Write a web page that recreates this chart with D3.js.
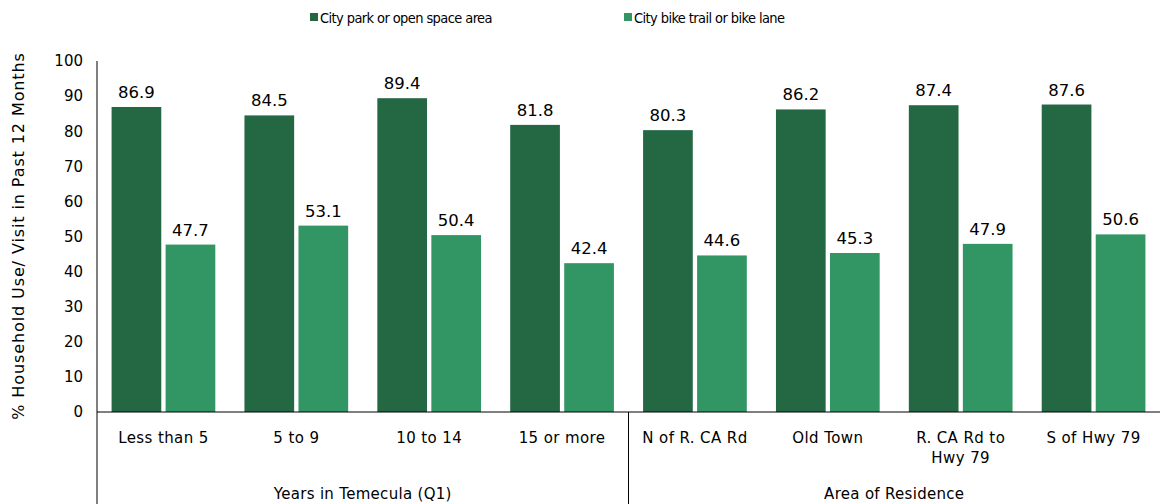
<!DOCTYPE html>
<html>
<head>
<meta charset="utf-8">
<script src="https://cdn.jsdelivr.net/npm/d3@7"></script>
<style>
  body { margin: 0; background: #fff; }
  text { font-family: "DejaVu Sans", sans-serif; fill: #000; }
</style>
</head>
<body>
<div id="chart"></div>
<script>
// Chart data
const categories = ['Less than 5', '5 to 9', '10 to 14', '15 or more',
                    'N of R. CA Rd', 'Old Town', 'R. CA Rd to|Hwy 79', 'S of Hwy 79'];
const groups = [
    { name: 'Years in Temecula (Q1)', count: 4 },
    { name: 'Area of Residence', count: 4 }
];
const seriesNames = ['City park or open space area', 'City bike trail or bike lane'];
const parkValues = [86.9, 84.5, 89.4, 81.8, 80.3, 86.2, 87.4, 87.6];
const bikeValues = [47.7, 53.1, 50.4, 42.4, 44.6, 45.3, 47.9, 50.6];
const yTicks = [0, 10, 20, 30, 40, 50, 60, 70, 80, 90, 100];
const colors = ['#236843', '#329564'];

const width = 1167, height = 504;
const margin = { left: 97, right: 7, top: 61, bottom: 92 };

const svg = d3.select('#chart').append('svg')
    .attr('width', width)
    .attr('height', height);

const x = d3.scaleBand()
    .domain(categories)
    .range([margin.left, width - margin.right])
    .paddingInner(0)
    .paddingOuter(0);

const y = d3.scaleLinear()
    .domain([0, 100])
    .range([height - margin.bottom, margin.top]);

// Inner scale for the two bars in a category
const xs = d3.scaleBand()
    .domain([0, 1])
    .range([0, x.bandwidth()])
    .paddingInner(0.08)
    .paddingOuter(0.27);

const data = categories.map((c, i) => ({ cat: c, vals: [parkValues[i], bikeValues[i]] }));

// Bars
const cg = svg.append('g').selectAll('g')
    .data(data)
    .enter().append('g')
    .attr('transform', d => `translate(${x(d.cat)},0)`);

cg.selectAll('rect')
    .data(d => d.vals)
    .enter().append('rect')
    .attr('x', (v, i) => xs(i))
    .attr('width', xs.bandwidth())
    .attr('y', v => y(v))
    .attr('height', v => y(0) - y(v))
    .attr('fill', (v, i) => colors[i]);

cg.selectAll('text.val')
    .data(d => d.vals)
    .enter().append('text')
    .attr('class', 'val')
    .attr('x', (v, i) => xs(i) + xs.bandwidth() / 2)
    .attr('y', v => y(v) - 9)
    .attr('text-anchor', 'middle')
    .attr('font-size', '16.5px')
    .text(v => v.toFixed(1));

// Y axis
const yAxis = svg.append('g')
    .attr('transform', `translate(${margin.left},0)`)
    .call(d3.axisLeft(y).tickValues(yTicks).tickSize(0).tickPadding(14));
yAxis.select('.domain').remove();
yAxis.selectAll('text').attr('font-size', '15px');

svg.append('line')
    .attr('x1', margin.left).attr('x2', margin.left)
    .attr('y1', y(100)).attr('y2', height)
    .attr('stroke', '#000').attr('stroke-width', 1);

// X baseline
svg.append('line')
    .attr('x1', margin.left).attr('x2', width - margin.right)
    .attr('y1', y(0)).attr('y2', y(0))
    .attr('stroke', '#000').attr('stroke-width', 1);

// Category labels
const catLabels = svg.append('g').selectAll('text')
    .data(categories)
    .enter().append('text')
    .attr('x', d => x(d) + x.bandwidth() / 2)
    .attr('y', y(0) + 31)
    .attr('text-anchor', 'middle')
    .attr('font-size', '15px')
    .attr('letter-spacing', '0.4px');
catLabels.each(function(d) {
    const parts = d.split('|');
    const t = d3.select(this);
    parts.forEach((p, i) => {
        t.append('tspan')
            .attr('x', x(d) + x.bandwidth() / 2)
            .attr('dy', i === 0 ? 0 : 20)
            .text(p);
    });
});

// Group labels and separators
let start = 0;
groups.forEach((g, gi) => {
    const x0 = x(categories[start]);
    const x1 = x(categories[start + g.count - 1]) + x.bandwidth();
    svg.append('text')
        .attr('x', (x0 + x1) / 2)
        .attr('y', height - 5)
        .attr('text-anchor', 'middle')
        .attr('font-size', '15px')
        .attr('letter-spacing', '0.3px')
        .text(g.name);
    if (gi > 0) {
        svg.append('line')
            .attr('x1', x0).attr('x2', x0)
            .attr('y1', y(0)).attr('y2', height)
            .attr('stroke', '#000').attr('stroke-width', 1);
    }
    start += g.count;
});

// Y axis title
svg.append('text')
    .attr('transform', `translate(24,236) rotate(-90)`)
    .attr('text-anchor', 'middle')
    .attr('font-size', '16px')
    .attr('letter-spacing', '0.9px')
    .text('% Household Use/ Visit in Past 12 Months');

// Legend
const legendX = [310, 624];
seriesNames.forEach((s, i) => {
    svg.append('rect')
        .attr('x', legendX[i]).attr('y', 13)
        .attr('width', 8).attr('height', 8)
        .attr('fill', colors[i]);
    svg.append('text')
        .attr('x', legendX[i] + 10).attr('y', 23)
        .style('font-family', '"DejaVu Sans Condensed", "DejaVu Sans", sans-serif')
        .style('font-stretch', 'condensed')
        .attr('font-size', '14.5px')
        .attr('letter-spacing', '-0.6px')
        .text(s);
});
</script>
</body>
</html>
